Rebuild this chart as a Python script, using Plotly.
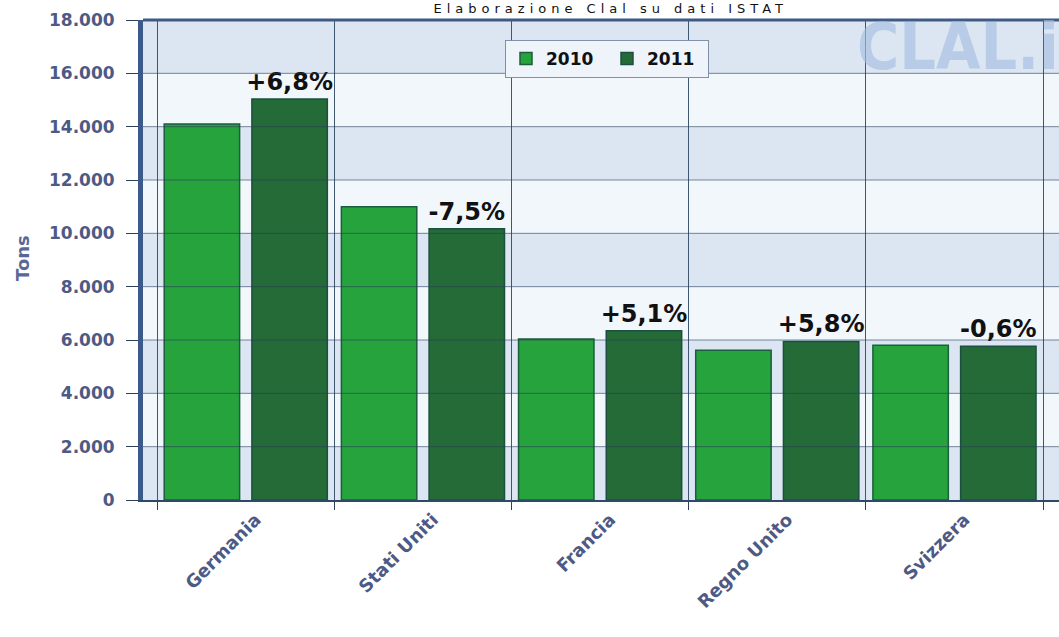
import plotly.graph_objects as go

countries = ["Germania", "Stati Uniti", "Francia", "Regno Unito", "Svizzera"]
tons_2010 = [14100, 11000, 6040, 5620, 5800]
tons_2011 = [15040, 10170, 6350, 5945, 5765]
change_labels = ["+6,8%", "-7,5%", "+5,1%", "+5,8%", "-0,6%"]
y_ticks = [0, 2000, 4000, 6000, 8000, 10000, 12000, 14000, 16000, 18000]

W, H = 1059, 637
ML, MR, MT, MB = 143, 0, 20, 137
plot_w = W - ML - MR
plot_h = H - MT - MB

def px_x(x):  # picture pixel -> paper fraction
    return (x - ML) / plot_w

def px_y(y):
    return (H - MB - y) / plot_h

axis_col = "#4d5a85"
FONT = "DejaVu Sans"

fig = go.Figure()
fig.add_trace(go.Bar(
    name="2010", x=countries, y=tons_2010,
    marker=dict(color="#27a33e", line=dict(color="#1b5e3b", width=1.5)),
))
fig.add_trace(go.Bar(
    name="2011", x=countries, y=tons_2011,
    marker=dict(color="#256b37", line=dict(color="#1b5040", width=1.5)),
    text=change_labels, textposition="outside", constraintext="none",
    outsidetextfont=dict(family=FONT, size=24, color="#111111", weight="bold"),
    cliponaxis=False,
))

shapes = []
for i in range(len(y_ticks) - 1):
    col = "#dce6f3" if i % 2 == 0 else "#f2f7fc"
    shapes.append(dict(type="rect", xref="paper", yref="y", x0=0, x1=1,
                       y0=y_ticks[i], y1=y_ticks[i + 1], fillcolor=col,
                       line=dict(width=0), layer="below"))
for t in y_ticks[1:-1]:
    shapes.append(dict(type="line", xref="paper", yref="y", x0=0, x1=1,
                       y0=t, y1=t, line=dict(color="rgba(40,60,90,0.6)", width=1),
                       layer="above"))
shapes.append(dict(type="line", xref="paper", yref="paper", x0=0, x1=1, y0=1, y1=1,
                   line=dict(color="#3f5b85", width=3), layer="above"))

fig.update_layout(
    width=W, height=H,
    margin=dict(l=ML, r=MR, t=MT, b=MB),
    paper_bgcolor="white",
    plot_bgcolor="#eaf1f9",
    separators=",.",
    barmode="group", bargap=0.01, bargroupgap=0.14,
    shapes=shapes,
    showlegend=True,
    legend=dict(orientation="h", x=px_x(505), y=px_y(40),
                xanchor="left", yanchor="top",
                bgcolor="#eef4fa", bordercolor="#8090a8", borderwidth=1,
                font=dict(family=FONT, size=17, color="#111111", weight="bold"),
                itemwidth=30, entrywidth=56, entrywidthmode="pixels"),
    xaxis=dict(range=[-0.58, 4.59], tickson="boundaries", ticks="outside",
               ticklen=8, tickcolor="#2d3f5c", tickangle=-45,
               ticklabelshift=10,
               tickfont=dict(family=FONT, size=18, color=axis_col, weight="bold"),
               showgrid=True, gridcolor="#3f5870", gridwidth=1,
               showline=True, linecolor="#2f4a66", linewidth=2, zeroline=False),
    yaxis=dict(range=[0, 18000], tickvals=y_ticks, tickformat=",d",
               ticks="outside", ticklen=12, tickcolor="#2d3f5c",
               ticklabelstandoff=8,
               tickfont=dict(family=FONT, size=17, color=axis_col, weight="bold"),
               showgrid=False, showline=True, linecolor="#3b5a8a", linewidth=5,
               zeroline=False),
    annotations=[
        dict(text="Elaborazione Clal su dati ISTAT", xref="paper", yref="paper",
             x=px_x(611), y=px_y(9), showarrow=False,
             xanchor="center", yanchor="middle",
             font=dict(family=FONT, size=13, color="#111111")),
        dict(text="Tons", xref="paper", yref="paper",
             x=px_x(22), y=px_y(258), textangle=-90, showarrow=False,
             xanchor="center", yanchor="middle",
             font=dict(family=FONT, size=18, color="#5a6896", weight="bold")),
        dict(text="CLAL.it", xref="paper", yref="paper",
             x=px_x(855), y=px_y(47), showarrow=False,
             xanchor="left", yanchor="middle",
             font=dict(family="Liberation Sans Narrow, DejaVu Sans Condensed, Liberation Sans",
                       size=64, color="rgba(165,190,224,0.65)", weight="bold")),
    ],
)

post = """
document.body.style.margin = '0px';
document.body.style.overflow = 'hidden';
document.querySelectorAll('.annotation-text').forEach(function (t) {
  if (t.textContent.indexOf('Elaborazione') === 0) { t.style.letterSpacing = '5px'; }
});
"""

fig.write_html("out.html", post_script=post, config={"displayModeBar": False})
